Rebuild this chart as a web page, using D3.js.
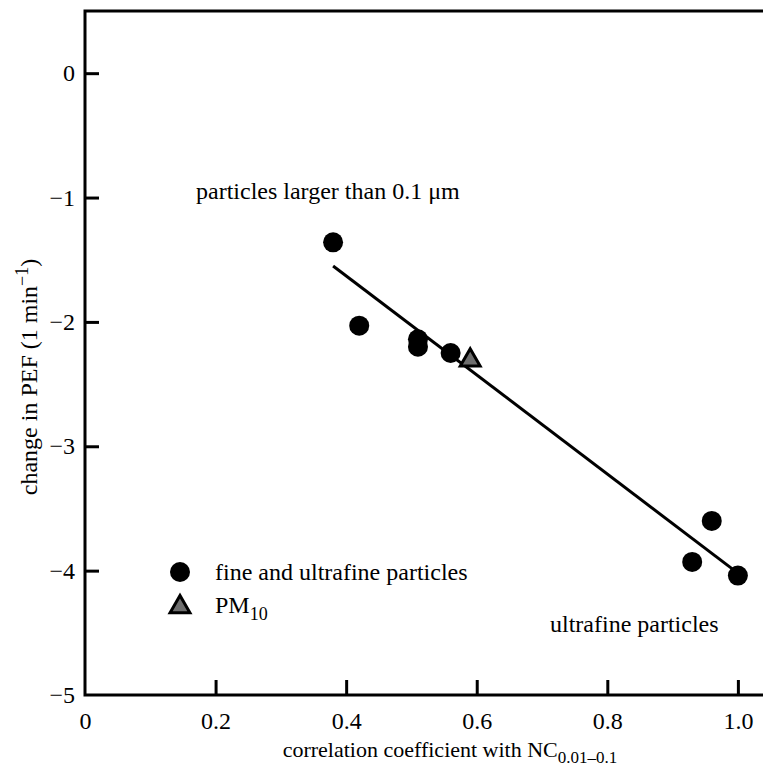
<!DOCTYPE html>
<html>
<head>
<meta charset="utf-8">
<script src="https://cdn.jsdelivr.net/npm/d3@7"></script>
<style>
  body { margin: 0; background: #fff; }
</style>
</head>
<body>
<script>
// correlation coefficient with NC0.01-0.1 vs change in PEF
let corrX = [0.38, 0.42, 0.51, 0.51, 0.56, 0.93, 0.96, 1.0],
    pefY = [-1.36, -2.03, -2.14, -2.20, -2.25, -3.93, -3.60, -4.04];
let pmX = [0.59],
    pmY = [-2.30];
let fitX = [0.38, 1.0],
    fitY = [-1.55, -4.02];
let xTicks = [0, 0.2, 0.4, 0.6, 0.8, 1.0],
    yTicks = [0, -1, -2, -3, -4, -5];

let serif = "'Liberation Serif'";
let w = 763, h = 767;
let svg = d3.select("body").append("svg").attr("width", w).attr("height", h)
  .style("font-family", serif);

let x = d3.scaleLinear().domain([0, 1.04]).range([85, 764]);
let y = d3.scaleLinear().domain([-5, 0.5]).range([695, 11]);

// frame
svg.append("rect")
  .attr("x", x(0)).attr("y", y(0.5))
  .attr("width", 700).attr("height", y(-5) - y(0.5))
  .attr("fill", "none").attr("stroke", "#000").attr("stroke-width", 3);

// x axis ticks, pointing inward
let xa = svg.append("g").attr("transform", "translate(0," + y(-5) + ")")
  .call(d3.axisBottom(x).tickValues(xTicks).tickSize(-15).tickPadding(17)
    .tickFormat(function(d){ return d == 0 ? "0" : d3.format(".1f")(d) }));
xa.select(".domain").remove();
xa.selectAll("line").attr("stroke-width", 3).filter(function(d){ return d == 0 }).remove();
xa.selectAll("text").style("font-family", serif).style("font-size", "24px");

let ya = svg.append("g").attr("transform", "translate(" + x(0) + ",0)")
  .call(d3.axisLeft(y).tickValues(yTicks).tickSize(-14).tickPadding(10)
    .tickFormat(function(d){ return d < 0 ? "\u2212" + (-d) : "0" }));
ya.select(".domain").remove();
ya.selectAll("line").attr("stroke-width", 3).filter(function(d){ return d == -5 }).remove();
ya.selectAll("text").style("font-family", serif).style("font-size", "24px");

// axis labels
let xl = svg.append("text").attr("x", 450).attr("y", 757).attr("text-anchor", "middle").attr("font-size", 22);
xl.append("tspan").text("correlation coefficient with NC");
xl.append("tspan").attr("dy", 6).attr("font-size", 17).text("0.01\u20130.1");

let yl = svg.append("text").attr("transform", "translate(37,377) rotate(-90)")
  .attr("text-anchor", "middle").attr("font-size", 24);
yl.append("tspan").text("change in PEF (1 min");
yl.append("tspan").attr("dy", -9).attr("font-size", 18).text("\u22121");
yl.append("tspan").attr("dy", 9).text(")");

// regression line
svg.append("line")
  .attr("x1", x(fitX[0])).attr("y1", y(fitY[0]))
  .attr("x2", x(fitX[1])).attr("y2", y(fitY[1]))
  .attr("stroke", "#000").attr("stroke-width", 3);

// points
svg.selectAll(".pt").data(corrX).enter().append("circle")
  .attr("class", "pt")
  .attr("cx", function(d){ return x(d) })
  .attr("cy", function(d, i){ return y(pefY[i]) })
  .attr("r", 10).attr("fill", "#000");

let tri = d3.symbol().type(d3.symbolTriangle).size(170);
svg.selectAll(".pm").data(pmX).enter().append("path")
  .attr("class", "pm")
  .attr("d", tri)
  .attr("transform", function(d, i){ return "translate(" + x(d) + "," + (y(pmY[i]) + 1) + ")" })
  .attr("fill", "#6e6e6e").attr("stroke", "#000").attr("stroke-width", 3);

// annotations
svg.append("text").attr("x", 196).attr("y", 199).attr("font-size", 24).text("particles larger than 0.1 \u03bcm");
svg.append("text").attr("x", 550).attr("y", 632).attr("font-size", 24).text("ultrafine particles");

// legend
svg.append("circle").attr("cx", 180).attr("cy", 572).attr("r", 10).attr("fill", "#000");
svg.append("text").attr("x", 215).attr("y", 580).attr("font-size", 24).text("fine and ultrafine particles");
svg.append("path").attr("d", tri).attr("transform", "translate(180,607)")
  .attr("fill", "#6e6e6e").attr("stroke", "#000").attr("stroke-width", 3);
let pl = svg.append("text").attr("x", 215).attr("y", 613).attr("font-size", 24);
pl.append("tspan").text("PM");
pl.append("tspan").attr("dy", 7).attr("font-size", 18).text("10");
</script>
</body>
</html>
